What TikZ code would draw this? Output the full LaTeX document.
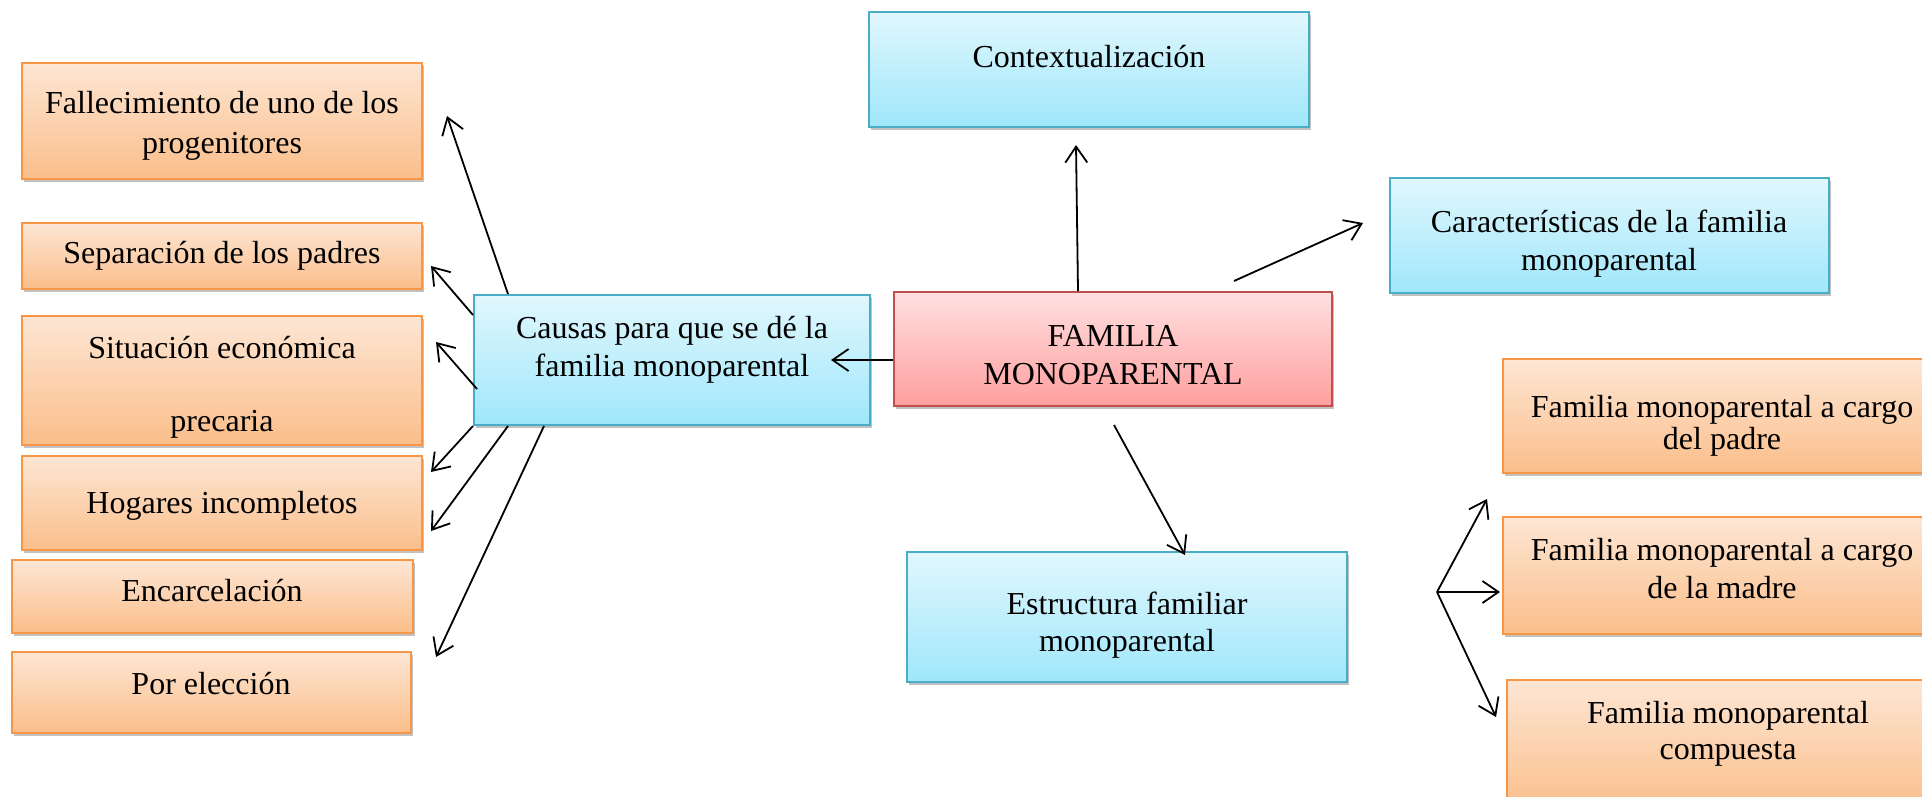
\documentclass[tikz,border=0pt]{standalone}
\usepackage{fontspec}
\setmainfont{Liberation Serif}
\usetikzlibrary{fit,shadows,arrows.meta}
\definecolor{obord}{HTML}{F79646}
\definecolor{otop}{HTML}{FDE6D4}
\definecolor{obot}{HTML}{FBBE8A}
\definecolor{bbord}{HTML}{4BACC6}
\definecolor{btop}{HTML}{E1F7FD}
\definecolor{bbot}{HTML}{9FE7FB}
\definecolor{rbord}{HTML}{C0504D}
\definecolor{rtop}{HTML}{FFE0E0}
\definecolor{rbot}{HTML}{FF9F9F}
\tikzset{
  basebox/.style={rectangle, inner sep=0pt, line width=2pt,
    drop shadow={shadow xshift=1.5pt, shadow yshift=-3pt, opacity=0.35, fill=black!70}},
  obox/.style={basebox, draw=obord, top color=otop, bottom color=obot},
  bbox/.style={basebox, draw=bbord, top color=btop, bottom color=bbot},
  rbox/.style={basebox, draw=rbord, top color=rtop, bottom color=rbot},
  txt/.style={anchor=base, inner sep=0pt, yshift=-3pt, font=\fontsize{32pt}{38pt}\selectfont},
  arr/.style={line width=1.8pt, -{Straight Barb[length=16pt,width=22pt]}}
}
\begin{document}
\begin{tikzpicture}[x=1pt,y=-1pt]
\useasboundingbox (0,0) rectangle (1922,796);
\clip (0,0) rectangle (1922,796);
% left boxes
\node[obox, fit={(22,63) (422,179)}] (fall) {};
\node[txt] (fall1) at (222,110) {Fallecimiento de uno de los};
\node[txt] (fall2) at (222,150) {progenitores};
\node[obox, fit={(22,223) (422,289)}] (sep) {};
\node[txt] (sep1) at (222,260) {Separación de los padres};
\node[obox, fit={(22,316) (422,445)}] (sit) {};
\node[txt] (sit1) at (222,355) {Situación económica};
\node[txt] (sit2) at (222,428) {precaria};
\node[obox, fit={(22,456) (422,550)}] (hog) {};
\node[txt] (hog1) at (222,510) {Hogares incompletos};
\node[obox, fit={(12,560) (413,633)}] (enc) {};
\node[txt] (enc1) at (212,598) {Encarcelación};
\node[obox, fit={(12,652) (411,733)}] (por) {};
\node[txt] (por1) at (211,691) {Por elección};
% centre
\node[bbox, fit={(474,295) (870,425)}] (cau) {};
\node[txt] (cau1) at (672,335) {Causas para que se dé la};
\node[txt] (cau2) at (672,373) {familia monoparental};
\node[rbox, fit={(894,292) (1332,406)}] (fam) {};
\node[txt] (fam1) at (1113,343) {FAMILIA};
\node[txt] (fam2) at (1113,381) {MONOPARENTAL};
\node[bbox, fit={(869,12) (1309,127)}] (ctx) {};
\node[txt] (ctx1) at (1089,64) {Contextualización};
\node[bbox, fit={(1390,178) (1829,293)}] (car) {};
\node[txt] (car1) at (1609,229) {Características de la familia};
\node[txt] (car2) at (1609,267) {monoparental};
\node[bbox, fit={(907,552) (1347,682)}] (est) {};
\node[txt] (est1) at (1127,611) {Estructura familiar};
\node[txt] (est2) at (1127,648) {monoparental};
% right boxes
\node[obox, fit={(1503,359) (1945,473)}] (pad) {};
\node[txt] (pad1) at (1722,414) {Familia monoparental a cargo};
\node[txt] (pad2) at (1722,446) {del padre};
\node[obox, fit={(1503,517) (1945,634)}] (mad) {};
\node[txt] (mad1) at (1722,557) {Familia monoparental a cargo};
\node[txt] (mad2) at (1722,595) {de la madre};
\node[obox, fit={(1507,680) (1950,812)}] (comp) {};
\node[txt] (comp1) at (1728,720) {Familia monoparental};
\node[txt] (comp2) at (1728,756) {compuesta};
% free ends
\coordinate (ectx) at (1076,145);
\coordinate (ecar) at (1363,223);
\coordinate (eest) at (1185,555);
\coordinate (ecau) at (831,360);
\coordinate (efall) at (447,116);
\coordinate (esep) at (431,266);
\coordinate (esit) at (436,342);
\coordinate (eh1) at (431,472);
\coordinate (eh2) at (431,531);
\coordinate (eh3) at (436,657);
\coordinate (br) at (1437,592);
\coordinate (ep) at (1487,499);
\coordinate (em) at (1500,592);
\coordinate (ec) at (1496,717);
\coordinate (sfam) at (1234,281);
\coordinate (sfam2) at (1114,425);
% connectors
\draw[arr] ([xshift=185pt]fam.north west) -- (ectx);
\draw[arr] (sfam) -- (ecar);
\draw[arr] (sfam2) -- (eest);
\draw[arr] ([yshift=-11pt]fam.west) -- (ecau);
\draw[arr] ([xshift=35pt]cau.north west) -- (efall);
\draw[arr] ([yshift=-21pt]cau.north west) -- (esep);
\draw[arr] ([xshift=4pt,yshift=-95pt]cau.north west) -- (esit);
\draw[arr] (cau.south west) -- (eh1);
\draw[arr] ([xshift=35pt]cau.south west) -- (eh2);
\draw[arr] ([xshift=71pt]cau.south west) -- (eh3);
\draw[arr] (br) -- (ep);
\draw[arr] (br) -- (em);
\draw[arr] (br) -- (ec);
\end{tikzpicture}
\end{document}
